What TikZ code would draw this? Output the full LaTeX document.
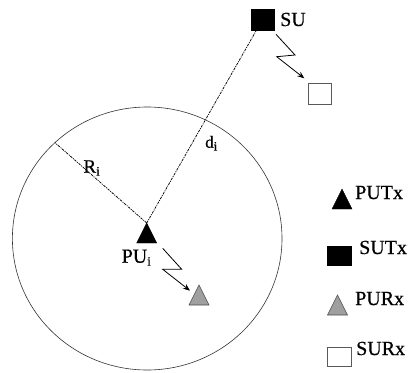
\documentclass[tikz,border=0pt]{standalone}
\usepackage{fontspec}
\setmainfont[FakeBold=0.6,AutoFakeBold=0.6]{Liberation Serif}
\usetikzlibrary{shapes.geometric,arrows.meta}
\newcommand\lowsub[1]{\raisebox{-3pt}{\fontsize{13}{13}\selectfont #1}}
\begin{document}
\begin{tikzpicture}[x=1pt,y=-1pt,
  tri/.style={isosceles triangle, isosceles triangle stretches, shape border rotate=90,
    minimum width=20pt, minimum height=20pt, inner sep=0pt, outer sep=0pt},
  putri/.style={tri, fill=black, draw=black},
  prtri/.style={tri, fill=gray!75, draw=gray!60!black, line width=0.6pt},
  blacksq/.style={rectangle, fill=black, draw=black, minimum width=23pt, minimum height=21pt,
    inner sep=0pt, outer sep=0pt},
  whitesq/.style={rectangle, fill=white, draw=gray!70!black, line width=0.6pt,
    minimum width=23pt, minimum height=21pt, inner sep=0pt, outer sep=0pt},
  lbl/.style={inner sep=0pt, anchor=base west, font=\fontsize{20}{24}\selectfont\bfseries},
  ray/.style={line width=0.75pt, dash pattern=on 2.5pt off 1pt on 1pt off 1pt},
  zig/.style={line width=0.8pt, -{Stealth[length=7pt,width=5.5pt]}},
]
\useasboundingbox (0,0) rectangle (411,372);
\draw[gray!40!black, line width=0.6pt] (147.2,238.5) ellipse [x radius=134.8pt, y radius=131.5pt];

% main nodes
\node[putri, anchor=apex] (pu) at (146.7,223) {};
\node[lbl] (pul) at (121.5,262.7) {PU\lowsub{i}};
\node[prtri, anchor=apex] (pr) at (199,285) {};
\node[blacksq] (su) at (262.5,19.5) {};
\node[lbl] (sul) at (280,26) {SU};
\node[whitesq] (sr) at (319.5,93.5) {};

% rays
\coordinate (rend) at (55,142.7);
\draw[ray] (pu.apex) -- (rend);
\draw[ray] (pu.apex) -- (su);
\node[lbl, font=\fontsize{19}{22}\selectfont\bfseries] (ril) at (83.3,172.7) {R\lowsub{i}};
\node[lbl, font=\fontsize{17}{20}\selectfont\bfseries] (dil) at (205,147.7) {d\lowsub{i}};

% zigzag links
\coordinate (za) at (162.7,248.3);
\coordinate (zb) at (181.7,269.3);
\coordinate (zc) at (162.7,269.3);
\coordinate (zd) at (190,290.7);
\draw[zig] (za) -- (zb) -- (zc) -- (zd);
\coordinate (ya) at (276,34.3);
\coordinate (yb) at (295,55);
\coordinate (yc) at (276.7,56.7);
\coordinate (yd) at (304.3,78.3);
\draw[zig] (ya) -- (yb) -- (yc) -- (yd);

% legend
\node[putri, anchor=apex] (lpt) at (342,189) {};
\node[lbl] (lptl) at (355,199) {PUTx};
\node[blacksq, minimum width=24pt, minimum height=19pt] (lst) at (339,255.5) {};
\node[lbl] (lstl) at (359,254) {SUTx};
\node[prtri, anchor=apex] (lpr) at (337.5,295) {};
\node[lbl] (lprl) at (355,305) {PURx};
\node[whitesq, minimum width=24pt, minimum height=19pt] (lsr) at (339,356.5) {};
\node[lbl] (lsrl) at (356,355) {SURx};
\end{tikzpicture}
\end{document}
